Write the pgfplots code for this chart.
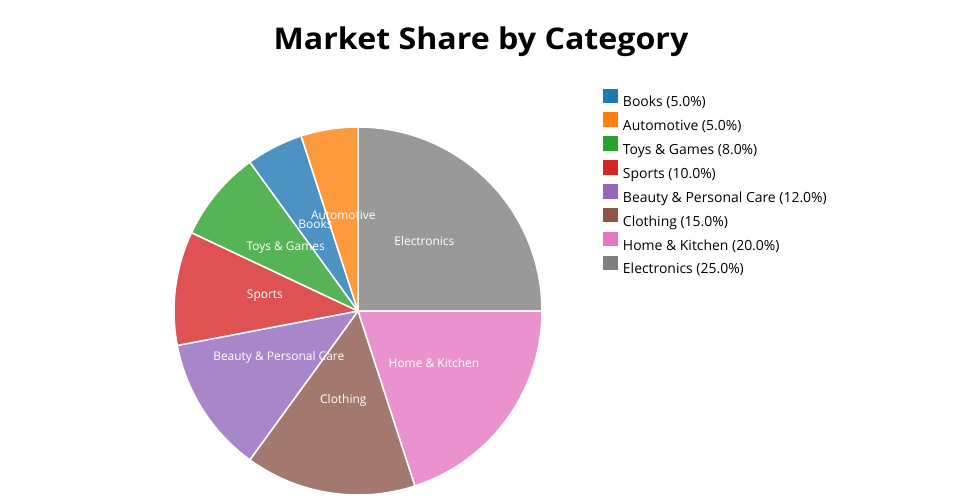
\documentclass[border=0pt]{standalone}
\usepackage{pgfplots}
\pgfplotsset{compat=1.18}
\usepgfplotslibrary{polar}
\usepackage{fontspec}
\setmainfont{Open Sans}

\definecolor{cElectronics}{HTML}{7F7F7F}
\definecolor{cHome}{HTML}{E377C2}
\definecolor{cClothing}{HTML}{8C564B}
\definecolor{cBeauty}{HTML}{9467BD}
\definecolor{cSports}{HTML}{D62728}
\definecolor{cToys}{HTML}{2CA02C}
\definecolor{cBooks}{HTML}{1F77B4}
\definecolor{cAutomotive}{HTML}{FF7F0E}

% running start angle (degrees); slices go clockwise from 12 o'clock
\gdef\sliceStart{90}
\gdef\labelList{}
% #1 share in percent, #2 colour, #3 label inside the slice
\newcommand\slice[3]{%
  \pgfmathsetmacro\sliceEnd{\sliceStart}%
  \pgfmathsetmacro\sliceBeg{\sliceStart-3.6*#1}%
  \pgfmathsetmacro\sliceMid{(\sliceBeg+\sliceEnd)/2}%
  \edef\doslice{\noexpand\addplot[fill=#2, fill opacity=0.8, draw=white,
      line width=1.5bp, line join=round, domain=\sliceBeg:\sliceEnd,
      samples=80, forget plot]
      {1} -- (axis cs:0,0) -- cycle;}%
  \doslice
  \xdef\labelList{\unexpanded\expandafter{\labelList}%
    \noexpand\node[text=white, yshift=3.5bp,
      font=\noexpand\fontsize{12}{14}\noexpand\selectfont]
      at (axis cs:\sliceMid,0.51) {\unexpanded{#3}};}%
  \xdef\sliceStart{\sliceBeg}%
}

\begin{document}
\begin{tikzpicture}
\useasboundingbox (0,0) rectangle (960bp,500bp);

\node[anchor=base, xscale=1.076, transform shape,
  font=\bfseries\fontsize{30}{36}\selectfont]
  at (481bp,450bp) {Market Share by Category};

\begin{polaraxis}[
  at={(358bp,189bp)}, anchor=origin,
  width=368bp, height=368bp, scale only axis,
  ymin=0, ymax=1, hide axis, clip=false,
]
\slice{25}{cElectronics}{Electronics}
\slice{20}{cHome}{Home \& Kitchen}
\slice{15}{cClothing}{Clothing}
\slice{12}{cBeauty}{Beauty \& Personal Care}
\slice{10}{cSports}{Sports}
\slice{8}{cToys}{Toys \& Games}
\slice{5}{cBooks}{Books}
\slice{5}{cAutomotive}{Automotive}
\labelList
\end{polaraxis}

% legend, sorted by share
\begin{axis}[
  at={(0,0)}, anchor=south west,
  width=960bp, height=500bp, scale only axis,
  xmin=0, xmax=1, ymin=0, ymax=1, hide axis,
  legend cell align=left,
  legend image code/.code={\fill (0bp,0bp) rectangle (14.4bp,14.6bp);},
  legend style={at={(0.6284,0.8228)}, anchor=north west,
    draw=none, fill=none, inner sep=0pt, outer sep=0pt,
    row sep=-1.6bp, column sep=5.3bp,
    font=\fontsize{14}{17}\selectfont,
    nodes={inner sep=0pt, outer sep=0pt, text height=14.6bp, text depth=7.1bp}},
]
\addlegendimage{fill=cBooks, draw=none}\addlegendentry{Books (5.0\%)}
\addlegendimage{fill=cAutomotive, draw=none}\addlegendentry{Automotive (5.0\%)}
\addlegendimage{fill=cToys, draw=none}\addlegendentry{Toys \& Games (8.0\%)}
\addlegendimage{fill=cSports, draw=none}\addlegendentry{Sports (10.0\%)}
\addlegendimage{fill=cBeauty, draw=none}\addlegendentry{Beauty \& Personal Care (12.0\%)}
\addlegendimage{fill=cClothing, draw=none}\addlegendentry{Clothing (15.0\%)}
\addlegendimage{fill=cHome, draw=none}\addlegendentry{Home \& Kitchen (20.0\%)}
\addlegendimage{fill=cElectronics, draw=none}\addlegendentry{Electronics (25.0\%)}
\end{axis}
\end{tikzpicture}
\end{document}
